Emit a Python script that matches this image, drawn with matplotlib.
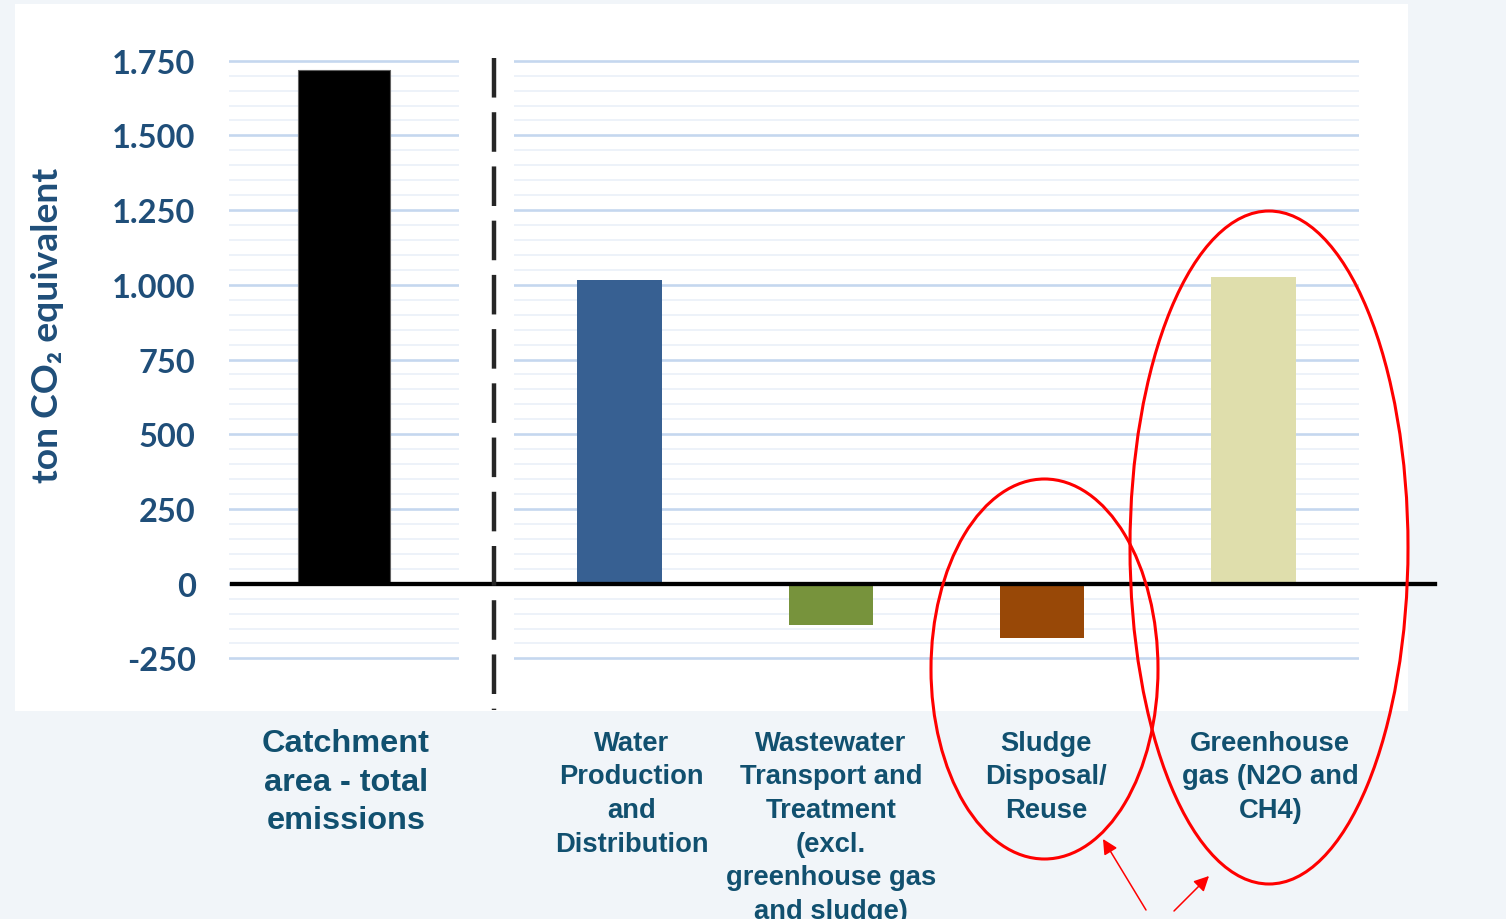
import matplotlib
matplotlib.use("Agg")
import matplotlib.pyplot as plt
import matplotlib.transforms as mtransforms
from matplotlib.patches import Ellipse, Rectangle, FancyArrowPatch
from matplotlib.lines import Line2D
from matplotlib.ticker import FixedLocator, FuncFormatter

# data
left_labels = ['Catchment\narea - total\nemissions']
left_values = [1720]
left_colors = ['#000000']

labels = ['Water\nProduction\nand\nDistribution',
          'Wastewater\nTransport and\nTreatment\n(excl.\ngreenhouse gas\nand sludge)',
          'Sludge\nDisposal/\nReuse',
          'Greenhouse\ngas (N2O and\nCH4)']
values = [1015, -137, -182, 1025]
colors = ['#376092', '#77933C', '#984807', '#DFDEAC']
# labels in the source sit a little right of their bars (pixels)
label_shift = [12, 0, 4, 17]

major_ticks = [-250, 0, 250, 500, 750, 1000, 1250, 1500, 1750]
minor_ticks = list(range(-250, 1751, 50))
ylim = (-426, 1856)

BG = '#F1F5F9'
TICK_COLOR = '#1F4E79'
LABEL_COLOR = '#11506F'

W, H = 1506, 920
def fx(px):
    return px / W
def fy(py):
    return 1 - py / H

fig = plt.figure(figsize=(W / 100, H / 100), dpi=100)
fig.patch.set_facecolor(BG)

# white chart panel
fig.add_artist(Rectangle((fx(15), fy(712)), fx(1408) - fx(15), fy(5) - fy(712),
                         transform=fig.transFigure, facecolor='white',
                         edgecolor='none', zorder=0))

bottom, top = fy(712), fy(30)
ax_l = fig.add_axes([fx(229), bottom, fx(459) - fx(229), top - bottom])
ax_r = fig.add_axes([fx(514), bottom, fx(1359) - fx(514), top - bottom])

fmt = FuncFormatter(lambda v, p: f'{v:,.0f}'.replace(',', '.'))

for ax in (ax_l, ax_r):
    ax.set_facecolor('none')
    ax.set_ylim(*ylim)
    ax.yaxis.set_major_locator(FixedLocator(major_ticks))
    ax.yaxis.set_minor_locator(FixedLocator(minor_ticks))
    ax.grid(which='major', axis='y', color='#C5D7EF', lw=1.9)
    ax.grid(which='minor', axis='y', color='#EDF2F9', lw=1.4)
    ax.set_axisbelow(True)
    for s in ax.spines.values():
        s.set_visible(False)
    ax.tick_params(axis='both', which='both', length=0)

ax_l.bar(range(len(left_values)), left_values, width=0.4, color=left_colors,
         edgecolor='#606060', linewidth=0.8, zorder=3)
ax_l.set_xlim(-0.5, len(left_values) - 0.5)
ax_l.set_xticks(range(len(left_values)))
ax_l.set_xticklabels(left_labels, fontsize=23.4, fontweight='bold',
                     family='Liberation Sans', color=LABEL_COLOR, linespacing=1.37)
ax_l.tick_params(axis='x', pad=12.5)
ax_l.yaxis.set_major_formatter(fmt)
ax_l.tick_params(axis='y', pad=24, labelsize=23.5, labelcolor=TICK_COLOR)
for t in ax_l.get_yticklabels():
    t.set_fontfamily('Lato')
    t.set_fontweight('bold')
for t in ax_l.get_xticklabels():
    t.set_transform(t.get_transform() + mtransforms.ScaledTranslation(0.02, 0, fig.dpi_scale_trans))

ax_r.bar(range(len(values)), values, width=0.4, color=colors, zorder=3)
ax_r.set_xlim(-0.5, len(values) - 0.5)
ax_r.set_xticks(range(len(values)))
ax_r.set_xticklabels(labels, fontsize=19.7, fontweight='bold',
                     family='Liberation Sans', color=LABEL_COLOR, linespacing=1.38)
ax_r.tick_params(axis='x', pad=13.5)
ax_r.tick_params(axis='y', labelleft=False)
for t, dx in zip(ax_r.get_xticklabels(), label_shift):
    t.set_transform(t.get_transform() + mtransforms.ScaledTranslation(dx / 100, 0, fig.dpi_scale_trans))

fig.text(fx(48), fy(325), 'ton CO\u2082 equivalent', rotation=90, ha='center',
         va='center', fontsize=26.8, fontweight='bold', color=TICK_COLOR,
         family=['Lato', 'DejaVu Sans'])

# zero line across both panels
blend = mtransforms.blended_transform_factory(fig.transFigure, ax_r.transData)
fig.add_artist(Line2D([fx(232), fx(1435)], [0, 0], transform=blend,
                      color='black', lw=3.1, zorder=5))

# dashed separator
fig.add_artist(Line2D([fx(494), fx(494)], [fy(59), fy(711)], transform=fig.transFigure,
                      color='#262626', lw=3.2, linestyle=(0, (8.9, 3.3)), zorder=5))

# red highlight ellipses and arrows
fig.add_artist(Ellipse((fx(1044.5), fy(670)), 227 / W, 380 / H, transform=fig.transFigure,
                       fill=False, edgecolor='#FF0000', lw=2.2, zorder=6))
fig.add_artist(Ellipse((fx(1269), fy(548.5)), 278 / W, 673 / H, transform=fig.transFigure,
                       fill=False, edgecolor='#FF0000', lw=2.2, zorder=6))
for tail, tip in [((1146, 911), (1103, 840)), ((1174, 912), (1209, 877))]:
    fig.add_artist(FancyArrowPatch(posA=(fx(tail[0]), fy(tail[1])),
                                   posB=(fx(tip[0]), fy(tip[1])),
                                   transform=fig.transFigure, color='#FF0000', lw=1.1,
                                   arrowstyle='-|>,head_length=0.5,head_width=0.25',
                                   mutation_scale=18, shrinkA=0, shrinkB=0, zorder=6))

fig.savefig('out.png', dpi=100, facecolor=fig.get_facecolor())
